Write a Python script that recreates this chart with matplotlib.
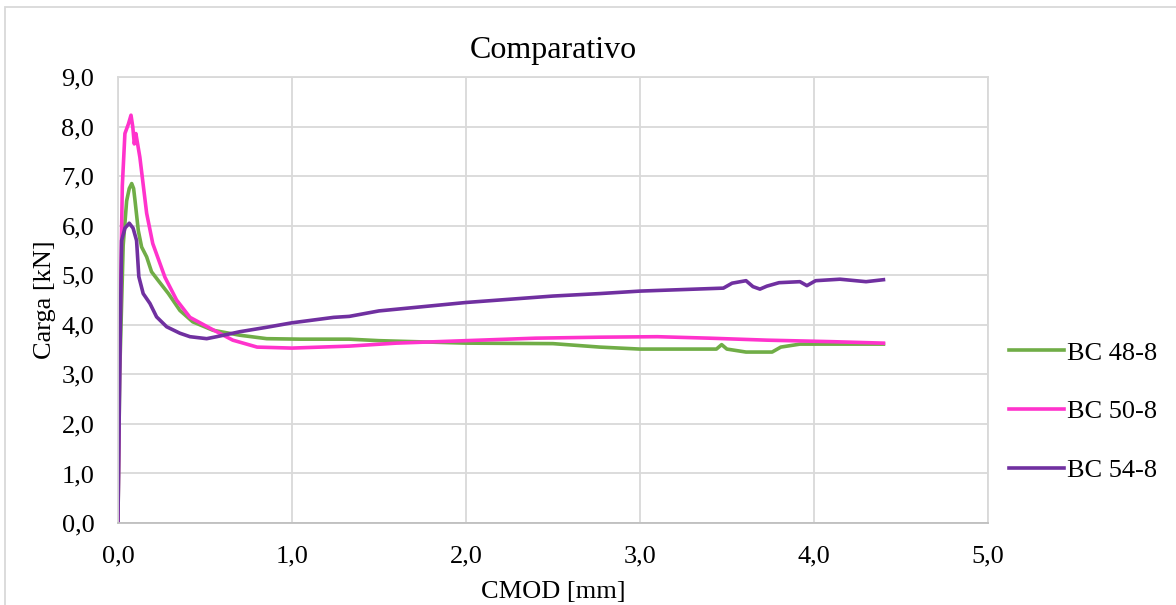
import matplotlib
matplotlib.use("Agg")
import matplotlib.pyplot as plt
from matplotlib.patches import Rectangle
from matplotlib.ticker import FuncFormatter, MultipleLocator

plt.rcParams["font.family"] = ["Liberation Serif", "DejaVu Serif"]

# CMOD [mm] vs load [kN] for each specimen
cmod_48 = [0.0, 0.01, 0.03, 0.05, 0.065, 0.079, 0.09, 0.098, 0.117, 0.136, 0.165, 0.193, 0.23, 0.29,
           0.356, 0.43, 0.546, 0.70, 0.855, 1.05, 1.33, 1.5, 2.0, 2.5, 2.77, 3.0, 3.44, 3.47, 3.50,
           3.61, 3.76, 3.81, 3.92, 4.11, 4.40]
load_48 = [0.0, 3.0, 5.6, 6.5, 6.75, 6.85, 6.75, 6.51, 5.9, 5.57, 5.37, 5.07, 4.9, 4.63,
           4.29, 4.06, 3.89, 3.79, 3.72, 3.71, 3.71, 3.68, 3.63, 3.62, 3.55, 3.51, 3.51, 3.60, 3.51,
           3.45, 3.45, 3.55, 3.61, 3.61, 3.61]

cmod_50 = [0.0, 0.01, 0.025, 0.04, 0.06, 0.075, 0.085, 0.094, 0.103, 0.126, 0.165, 0.2, 0.27, 0.337,
           0.414, 0.53, 0.66, 0.80, 1.0, 1.33, 1.6, 2.0, 2.4, 2.77, 3.1, 3.4, 3.73, 4.1, 4.40]
load_50 = [0.0, 3.5, 6.8, 7.86, 8.05, 8.23, 8.0, 7.65, 7.86, 7.38, 6.25, 5.64, 4.96, 4.50,
           4.15, 3.93, 3.69, 3.55, 3.53, 3.57, 3.63, 3.68, 3.73, 3.75, 3.76, 3.73, 3.69, 3.66, 3.63]

cmod_54 = [0.0, 0.01, 0.021, 0.04, 0.065, 0.087, 0.107, 0.12, 0.145, 0.184, 0.222, 0.28, 0.356, 0.414,
           0.51, 0.567, 0.70, 0.855, 1.0, 1.24, 1.33, 1.5, 2.0, 2.5, 2.77, 3.0, 3.48, 3.53, 3.61,
           3.65, 3.69, 3.73, 3.80, 3.92, 3.96, 4.01, 4.15, 4.30, 4.40]
load_54 = [0.0, 3.0, 5.7, 5.95, 6.05, 5.95, 5.7, 4.97, 4.63, 4.43, 4.16, 3.96, 3.83, 3.76,
           3.72, 3.76, 3.86, 3.95, 4.04, 4.15, 4.17, 4.28, 4.45, 4.58, 4.63, 4.68, 4.74, 4.84, 4.89,
           4.77, 4.72, 4.78, 4.85, 4.87, 4.79, 4.89, 4.92, 4.87, 4.91]

series_names = ["BC 48-8", "BC 50-8", "BC 54-8"]
series_colors = ["#70AD47", "#FF33CC", "#7030A0"]

fig = plt.figure(figsize=(11.76, 6.05), dpi=100)
ax = fig.add_axes([0.1003, 0.1355, 0.7397, 0.7372])

for xs, ys, name, color in zip([cmod_48, cmod_50, cmod_54], [load_48, load_50, load_54],
                               series_names, series_colors):
    ax.plot(xs, ys, color=color, lw=2.6, label=name, solid_joinstyle="round")

ax.set_xlim(0, 5)
ax.set_ylim(0, 9)
ax.xaxis.set_major_locator(MultipleLocator(1))
ax.yaxis.set_major_locator(MultipleLocator(1))
comma = FuncFormatter(lambda v, p: f"{v:.1f}".replace(".", ","))
ax.xaxis.set_major_formatter(comma)
ax.yaxis.set_major_formatter(comma)
ax.tick_params(length=0, labelsize=19)
ax.tick_params(axis="x", pad=16)
ax.tick_params(axis="y", pad=17)
ax.grid(True, color="#D9D9D9", lw=1.3)
ax.set_axisbelow(True)
for s in ax.spines.values():
    s.set_color("#D9D9D9")
    s.set_linewidth(1.3)
ax.spines["bottom"].set_color("#BFBFBF")

ax.set_title("Comparativo", fontsize=23, pad=14)
ax.set_xlabel("CMOD [mm]", fontsize=19, labelpad=10)
ax.set_ylabel("Carga [kN]", fontsize=19, labelpad=4)

fig.legend(loc="center left", bbox_to_anchor=(0.8376, 0.3195), frameon=False, fontsize=19,
           handlelength=2.08, handletextpad=0.12, labelspacing=1.34)

# chart border
fig.patches.append(Rectangle((5 / 1176, -0.1), 1.2, 1.1 - 7 / 605, transform=fig.transFigure,
                             fill=False, edgecolor="#D9D9D9", lw=1.3))

fig.savefig("out.png", dpi=100, facecolor="white")
